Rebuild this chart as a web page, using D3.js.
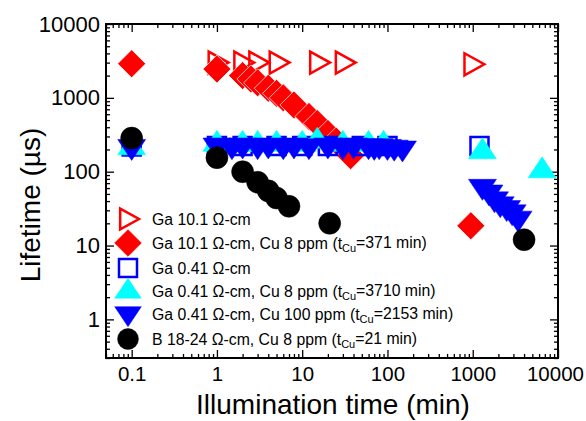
<!DOCTYPE html>
<html>
<head>
<meta charset="utf-8">
<script src="https://cdn.jsdelivr.net/npm/d3@7"></script>
<style>
  body { margin: 0; background: #fff; }
  text { font-family: "Liberation Sans", Arial, sans-serif; }
</style>
</head>
<body>
<svg id="chart" width="586" height="421"></svg>
<script>
// illumination time (min) and lifetime (us) per sample
const gaHighTime = [1, 2, 3, 5.2, 15.5, 31, 1000];
const gaHighLife = [3000, 3000, 3000, 3000, 3000, 3000, 2850];

const gaHighCuTime = [0.1, 1, 2, 2.5, 3, 4, 5, 6, 8, 12, 15, 20, 25, 37, 950];
const gaHighCuLife = [2900, 2450, 2000, 1800, 1600, 1350, 1150, 1000, 800, 560, 450, 330, 260, 165, 18.5];

const gaLowTime = [0.1, 1, 2, 5, 10, 20, 50, 100, 1200];
const gaLowLife = [220, 222, 222, 222, 222, 222, 222, 222, 222];

const gaLowCu8Time = [0.1, 1, 2, 3, 5, 10, 15, 30, 60, 90, 1300, 6500];
const gaLowCu8Life = [215, 240, 240, 240, 240, 240, 265, 240, 240, 240, 190, 105];

const gaLowCu100Time = [0.1, 1, 1.5, 2, 3, 4, 6, 8, 12, 20, 30, 40, 60, 70, 80, 100, 120, 150,
                        1300, 1550, 1800, 2100, 2500, 2900, 3400];
const gaLowCu100Life = [215, 225, 220, 225, 220, 225, 220, 225, 220, 225, 220, 225, 220, 215, 220, 215, 210, 205,
                        62, 52, 42, 36, 32, 28, 23];

const boronTime = [0.1, 1, 2, 3, 4, 5, 7, 21, 4000];
const boronLife = [285, 155, 100, 72, 55, 44, 34, 20, 12];

const xMajor = [0.1, 1, 10, 100, 1000, 10000];
const yMajor = [1, 10, 100, 1000, 10000];

const svg = d3.select('#chart');
const mLeft = 106, mRight = 558, mTop = 24, mBottom = 358;

const x = d3.scaleLog().domain([0.05, 10000]).range([mLeft, mRight]);
const y = d3.scaleLog().domain([0.3, 10000]).range([mBottom, mTop]);

// minor ticks 2..9 in every decade inside the domain
function minorTicks(scale) {
    const [a, b] = scale.domain();
    const out = [];
    for (let e = Math.floor(Math.log10(a)); e <= Math.ceil(Math.log10(b)); e++) {
        for (let k = 2; k <= 9; k++) {
            const v = k * Math.pow(10, e);
            if (v >= a && v <= b) out.push(+v.toPrecision(3));
        }
    }
    return out;
}

const fmt = d => d3.format('~g')(d);

function addAxis(axisFn, scale, major, tr, pad) {
    const g = svg.append('g').attr('transform', tr);
    g.call(axisFn(scale).tickValues(minorTicks(scale)).tickSize(-4).tickFormat(''));
    g.select('.domain').remove();
    g.selectAll('line').attr('stroke-width', 1.3);
    const g3 = svg.append('g').attr('transform', tr);
    g3.call(axisFn(scale).tickValues(major).tickSize(-8).tickPadding(pad || 0)
        .tickFormat(pad ? fmt : ''));
    g3.select('.domain').remove();
    g3.selectAll('line').attr('stroke-width', 1.3);
    g3.selectAll('text').style('font-size', '20.5px').attr('fill', '#000');
    return g3;
}

const xAxisG = addAxis(d3.axisBottom, x, xMajor, `translate(0,${mBottom})`, 8);
xAxisG.selectAll('text').filter(d => d === 10000).attr('dx', '-0.15em');
addAxis(d3.axisTop, x, xMajor, `translate(0,${mTop})`, 0);
addAxis(d3.axisLeft, y, yMajor, `translate(${mLeft},0)`, 6)
    .selectAll('text').style('font-size', '22px');
addAxis(d3.axisRight, y, yMajor, `translate(${mRight},0)`, 0);

svg.append('rect')
    .attr('x', mLeft).attr('y', mTop)
    .attr('width', mRight - mLeft).attr('height', mBottom - mTop)
    .attr('fill', 'none').attr('stroke', '#000').attr('stroke-width', 2);

svg.append('text')
    .attr('x', 333).attr('y', 414)
    .attr('text-anchor', 'middle')
    .style('font-size', '28px')
    .text('Illumination time (min)');

svg.append('text')
    .attr('transform', `translate(40,${(mTop + mBottom) / 2 + 14}) rotate(-90)`)
    .attr('text-anchor', 'middle')
    .style('font-size', '28px')
    .text('Lifetime (\u00b5s)');

// marker shapes, size = half width
const shapes = {
    triRight: { draw(c, s) { c.moveTo(-s * 0.75, -s); c.lineTo(s * 1.05, 0); c.lineTo(-s * 0.75, s); c.closePath(); } },
    diamond: { draw(c, s) { c.moveTo(0, -s); c.lineTo(s, 0); c.lineTo(0, s); c.lineTo(-s, 0); c.closePath(); } },
    square: { draw(c, s) { c.rect(-s, -s, 2 * s, 2 * s); } },
    triUp: { draw(c, s) { c.moveTo(0, -s * 0.95); c.lineTo(s, s * 0.55); c.lineTo(-s, s * 0.55); c.closePath(); } },
    triDown: { draw(c, s) { c.moveTo(0, s * 0.95); c.lineTo(s, -s * 0.55); c.lineTo(-s, -s * 0.55); c.closePath(); } },
    circle: { draw(c, s) { c.moveTo(s, 0); c.arc(0, 0, s, 0, 2 * Math.PI); } }
};

const series = [
    { name: 'Ga 10.1 \u03a9-cm', t: gaHighTime, v: gaHighLife, shape: 'triRight', size: 11,
      fill: 'none', stroke: '#ff0000', sw: 2.5 },
    { name: 'Ga 10.1 \u03a9-cm, Cu 8 ppm (t', sub: 'Cu', rest: '=371 min)', t: gaHighCuTime, v: gaHighCuLife,
      shape: 'diamond', size: 14, fill: '#ff0000', stroke: '#fff', sw: 0.7 },
    { name: 'Ga 0.41 \u03a9-cm', t: gaLowTime, v: gaLowLife, shape: 'square', size: 9,
      fill: 'none', stroke: '#0000ff', sw: 2.5 },
    { name: 'Ga 0.41 \u03a9-cm, Cu 8 ppm (t', sub: 'Cu', rest: '=3710 min)', t: gaLowCu8Time, v: gaLowCu8Life,
      shape: 'triUp', size: 14, fill: '#00ffff', stroke: '#00ffff', sw: 0.5 },
    { name: 'Ga 0.41 \u03a9-cm, Cu 100 ppm (t', sub: 'Cu', rest: '=2153 min)', t: gaLowCu100Time, v: gaLowCu100Life,
      shape: 'triDown', size: 14, fill: '#0000ff', stroke: '#0000ff', sw: 0.5 },
    { name: 'B 18-24 \u03a9-cm, Cu 8 ppm (t', sub: 'Cu', rest: '=21 min)', t: boronTime, v: boronLife,
      shape: 'circle', size: 11, fill: '#000', stroke: '#000', sw: 0.5 }
];

const plot = svg.append('g');
series.forEach(s => {
    const sym = d3.symbol().type(shapes[s.shape]).size(s.size);
    plot.selectAll(null)
        .data(d3.zip(s.t, s.v))
        .join('path')
        .attr('transform', d => `translate(${x(d[0])},${y(d[1])})`)
        .attr('d', sym)
        .attr('fill', s.fill)
        .attr('stroke', s.stroke)
        .attr('stroke-width', s.sw);
});

const legendY = [219, 243, 268, 291, 314, 339];
const legend = svg.append('g');
const items = legend.selectAll('g')
    .data(series)
    .join('g')
    .attr('transform', (d, i) => `translate(128,${legendY[i]})`);

items.append('path')
    .attr('d', d => d3.symbol().type(shapes[d.shape]).size(d.shape === 'square' ? 9 : d.size * 0.95)())
    .attr('fill', d => d.fill)
    .attr('stroke', d => d.shape === 'diamond' ? d.fill : d.stroke)
    .attr('stroke-width', d => d.sw);

const lt = items.append('text')
    .attr('x', 24).attr('dy', '0.35em')
    .style('font-size', '15.8px');
lt.append('tspan').text(d => d.name);
lt.filter(d => d.sub).append('tspan')
    .attr('dy', '0.35em').style('font-size', '11px').text(d => d.sub);
lt.filter(d => d.sub).append('tspan')
    .attr('dy', '-0.3em').text(d => d.rest);
</script>
</body>
</html>
